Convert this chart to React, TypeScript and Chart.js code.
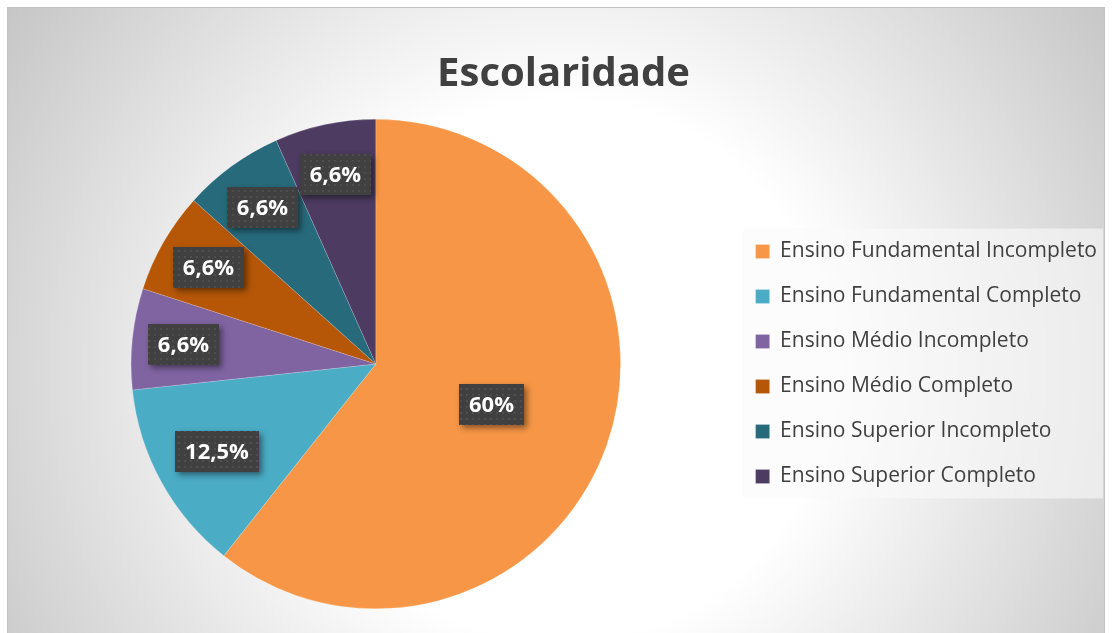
import React, { useEffect, useRef } from 'react';
import { Chart, registerables } from 'chart.js';

Chart.register(...registerables);

const titleText = 'Escolaridade';
const categories = [
  'Ensino Fundamental Incompleto',
  'Ensino Fundamental Completo',
  'Ensino Médio Incompleto',
  'Ensino Médio Completo',
  'Ensino Superior Incompleto',
  'Ensino Superior Completo',
];
const values = [60, 12.5, 6.6, 6.6, 6.6, 6.6];
const sliceColors = ['#F79646', '#4BACC6', '#8064A2', '#B65708', '#276A7C', '#4D3B62'];

const formatPercent = (v: number) => String(v).replace('.', ',') + '%';

function makePattern(ctx: CanvasRenderingContext2D) {
  const c = document.createElement('canvas');
  c.width = 6;
  c.height = 6;
  const p = c.getContext('2d')!;
  p.fillStyle = '#404040';
  p.fillRect(0, 0, 6, 6);
  p.fillStyle = '#4e4e4e';
  p.fillRect(2, 2, 2, 2);
  return ctx.createPattern(c, 'repeat');
}

const legendBgPlugin = {
  id: 'legendBg',
  beforeDraw(chart: any) {
    const lg = chart.legend;
    if (!lg || !lg.legendHitBoxes || !lg.legendHitBoxes.length) return;
    const hb = lg.legendHitBoxes;
    const first = hb[0];
    const last = hb[hb.length - 1];
    const ctx = chart.ctx;
    const x0 = first.left - 13;
    const y0 = first.top - 12.5;
    const x1 = 1095;
    const y1 = last.top + last.height + 11.5;
    ctx.save();
    ctx.fillStyle = 'rgba(250,250,250,0.6)';
    ctx.fillRect(x0, y0, x1 - x0, y1 - y0);
    ctx.restore();
  },
};

const boxLabelPlugin = {
  id: 'boxLabels',
  afterDatasetsDraw(chart: any) {
    const ctx: CanvasRenderingContext2D = chart.ctx;
    const meta = chart.getDatasetMeta(0);
    const data: number[] = chart.data.datasets[0].data;
    const total = data.reduce((a, b) => a + b, 0);
    const pattern = makePattern(ctx);
    ctx.save();
    ctx.font = 'bold 22px "Open Sans"';
    meta.data.forEach((arc: any, i: number) => {
      const { x, y, startAngle, endAngle, outerRadius } = arc.getProps(
        ['x', 'y', 'startAngle', 'endAngle', 'outerRadius'],
        true
      );
      const mid = (startAngle + endAngle) / 2;
      const share = data[i] / total;
      const frac = share > 0.3 ? 0.5 : share > 0.1 ? 0.74 : 0.79;
      const cx = x + Math.cos(mid) * outerRadius * frac;
      const cy = y + Math.sin(mid) * outerRadius * frac;
      const text = formatPercent(data[i]);
      const tw = ctx.measureText(text).width;
      const w = Math.round(tw + 20);
      const h = 41;
      const bx = Math.round(cx - w / 2);
      const by = Math.round(cy - h / 2);
      ctx.save();
      ctx.shadowColor = 'rgba(0,0,0,0.45)';
      ctx.shadowBlur = 6;
      ctx.shadowOffsetX = 3;
      ctx.shadowOffsetY = 3;
      ctx.fillStyle = '#404040';
      ctx.fillRect(bx, by, w, h);
      ctx.restore();
      ctx.fillStyle = pattern || '#404040';
      ctx.fillRect(bx, by, w, h);
      ctx.fillStyle = '#ffffff';
      ctx.textAlign = 'center';
      ctx.textBaseline = 'middle';
      ctx.fillText(text, bx + w / 2, by + h / 2 + 1);
    });
    ctx.restore();
  },
};

export default function App() {
  const canvasRef = useRef<HTMLCanvasElement | null>(null);

  useEffect(() => {
    if (!canvasRef.current) return;
    const chart = new Chart(canvasRef.current, {
      type: 'pie',
      data: {
        labels: categories,
        datasets: [
          {
            data: values,
            backgroundColor: sliceColors,
            borderColor: 'rgba(255,255,255,0.35)',
            borderWidth: 0.5,
          },
        ],
      },
      options: {
        responsive: false,
        animation: false,
        layout: { padding: { left: 12, right: 0, top: 0, bottom: 27 } },
        plugins: {
          title: {
            display: true,
            text: titleText,
            color: '#404040',
            font: { family: 'Open Sans', size: 40, weight: 'bold' },
            padding: { top: 43, bottom: 20 },
          },
          legend: {
            display: true,
            position: 'right',
            fullSize: false,
            labels: {
              color: '#404040',
              font: { family: 'Open Sans', size: 21 },
              boxWidth: 14,
              boxHeight: 14,
              padding: 24,
            },
          },
          tooltip: { enabled: false },
        },
      },
      plugins: [legendBgPlugin, boxLabelPlugin],
    });
    return () => chart.destroy();
  }, []);

  return (
    <div
      style={{
        position: 'absolute',
        left: 7,
        top: 7,
        width: 1098,
        height: 630,
        boxSizing: 'border-box',
        border: '1px solid #c3c3c3',
        overflow: 'hidden',
        background:
          'radial-gradient(circle at 553px 363px, #ffffff 0px, #ffffff 270px, #d6d6d6 550px, #c2c2c2 690px)',
      }}
    >
      <canvas ref={canvasRef} width={1099} height={628} style={{ display: 'block' }} />
    </div>
  );
}
